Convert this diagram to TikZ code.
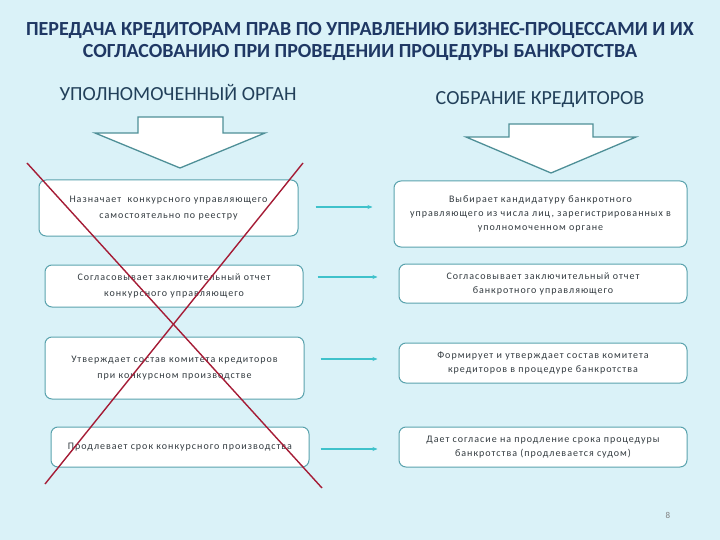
\documentclass[tikz,border=0pt]{standalone}
\usepackage{fontspec}
\setmainfont{Carlito}
\newfontfamily\boxfont[LetterSpace=10]{Carlito}
\usetikzlibrary{positioning,arrows.meta}
\definecolor{bgblue}{HTML}{DAF2F8}
\definecolor{headblue}{HTML}{1F3864}
\definecolor{subblue}{HTML}{22405A}
\definecolor{boxline}{HTML}{5AA3AE}
\definecolor{boxtext}{HTML}{333B40}
\definecolor{linkcol}{HTML}{3FC2CB}
\definecolor{arrowline}{HTML}{4E8F97}
\definecolor{crossred}{HTML}{A51C36}

\begin{document}
\begin{tikzpicture}[x=1pt, y=-1pt,
    every node/.style={inner sep=2pt},
    head/.style={font=\bfseries\fontsize{20}{22}\selectfont, text=headblue, align=center},
    sub/.style={font=\fontsize{20}{22}\selectfont, text=subblue},
    stepbox/.style={draw=boxline, line width=1pt, rounded corners=7pt, fill=white,
      align=center, text=boxtext, font=\boxfont\fontsize{10}{16.5}\selectfont},
    rstepbox/.style={stepbox, font=\boxfont\fontsize{10}{14}\selectfont},
    link/.style={draw=linkcol, line width=2pt, -{Stealth[length=5pt,width=4pt]}},
    cross/.style={draw=crossred, line width=1.4pt},
    bigarrow/.style={draw=arrowline, line width=1.3pt, fill=white, line join=miter}]
  \useasboundingbox[fill=bgblue] (0,0) rectangle (720,540);
  % заголовок
  \node[head] (title) at (360,41) {ПЕРЕДАЧА КРЕДИТОРАМ ПРАВ ПО УПРАВЛЕНИЮ БИЗНЕС-ПРОЦЕССАМИ И ИХ\\
    СОГЛАСОВАНИЮ ПРИ ПРОВЕДЕНИИ ПРОЦЕДУРЫ БАНКРОТСТВА};
  \node[sub] (organ) at (178,93) {УПОЛНОМОЧЕННЫЙ ОРГАН};
  \node[sub] (meeting) at (540,100) {СОБРАНИЕ КРЕДИТОРОВ};
  % стрелки вниз
  \draw[bigarrow] (138,117) -- (223,117) -- (223,133) -- (265,133) -- (180,168)
    -- (95,133) -- (138,133) -- cycle;
  \draw[bigarrow] (509,124) -- (593,124) -- (593,137) -- (636,137) -- (551,173)
    -- (466,137) -- (509,137) -- cycle;
  % уполномоченный орган
  \node[stepbox, minimum width=259pt, minimum height=56pt] (org1) at (168.5,208)
    {Назначает \ конкурсного управляющего\\самостоятельно по реестру};
  \node[stepbox, minimum width=258pt, minimum height=42pt] (org2) at (174,286)
    {Согласовывает заключительный отчет\\конкурсного управляющего};
  \node[stepbox, minimum width=259pt, minimum height=62pt] (org3) at (174.5,368)
    {Утверждает состав комитета кредиторов\\при конкурсном производстве};
  \node[stepbox, minimum width=258pt, minimum height=40pt] (org4) at (180,447)
    {Продлевает срок конкурсного производства};
  % собрание кредиторов
  \node[rstepbox, minimum width=293pt, minimum height=66pt] (cred1) at (540.5,214)
    {Выбирает кандидатуру банкротного\\управляющего из числа лиц, зарегистрированных в\\уполномоченном органе};
  \node[rstepbox, minimum width=288pt, minimum height=39pt] (cred2) at (543,283.5)
    {Согласовывает заключительный отчет\\банкротного управляющего};
  \node[rstepbox, minimum width=288pt, minimum height=40pt] (cred3) at (543,363)
    {Формирует и утверждает состав комитета\\кредиторов в процедуре банкротства};
  \node[rstepbox, minimum width=288pt, minimum height=40pt] (cred4) at (543,447)
    {Дает согласие на продление срока процедуры\\банкротства (продлевается судом)};
  % переходы
  \draw[link] ([xshift=17pt,yshift=1pt]org1.east) -- +(57,0);
  \draw[link] ([xshift=14pt,yshift=9pt]org2.east) -- +(60,0);
  \draw[link] ([xshift=16pt,yshift=9pt]org3.east) -- +(57,0);
  \draw[link] ([xshift=11pt,yshift=-2pt]org4.east) -- +(57,0);
  % зачеркнуто
  \draw[cross] (27,163) -- (322,488);
  \draw[cross] (303,163) -- (45,484);
  \node[font=\fontsize{9}{10}\selectfont, text=gray] (page) at (668,515) {8};
\end{tikzpicture}
\end{document}
